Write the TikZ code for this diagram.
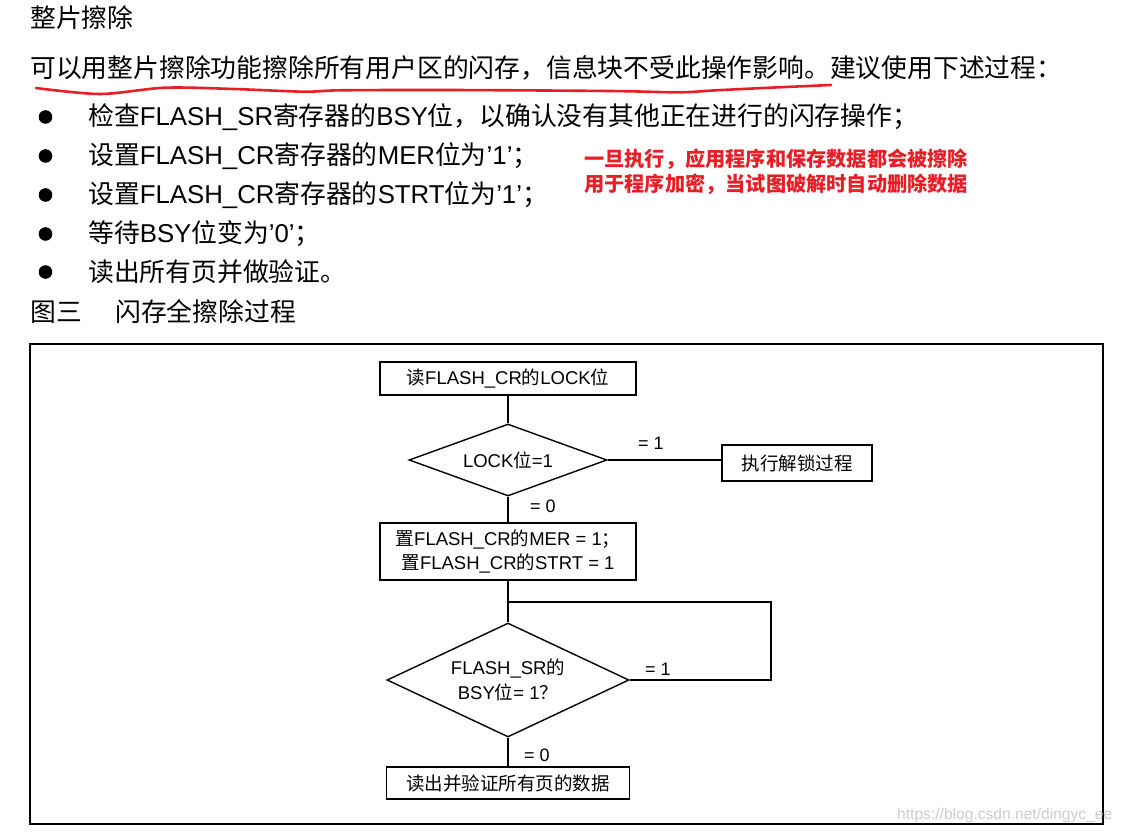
\documentclass[tikz,border=0pt]{standalone}
\usepackage{fontspec}
\setmainfont{Noto Sans CJK SC}
\newfontfamily\lat{Liberation Sans}
\usetikzlibrary{shapes.geometric}
\newcommand\en[1]{{\lat #1}}
\definecolor{warnred}{RGB}{232,30,38}
\definecolor{markgray}{RGB}{205,205,205}

\begin{document}
\begin{tikzpicture}[x=1pt,y=1pt,node distance=80pt,
  text line/.style={anchor=west,inner sep=0pt,font=\fontsize{25.8}{30}\selectfont},
  box/.style={rectangle,draw,line width=1.4pt,inner sep=2pt,align=center,font=\fontsize{18.5}{24}\selectfont},
  decision/.style={diamond,draw,line width=1.4pt,inner sep=0pt,align=center,font=\fontsize{18.5}{25}\selectfont},
  line/.style={draw,line width=1.4pt},
  cond/.style={font=\lat\fontsize{18}{20}\selectfont}]
  \useasboundingbox (0,0) rectangle (1126,-834);

  % text above the chart
  \node[text line] (title) at (30,-18) {整片擦除};
  \node[text line] (intro) at (30,-68) {可以用整片擦除功能擦除所有用户区的闪存，信息块不受此操作影响。建议使用下述过程：};
  \draw[warnred,line width=2.6pt,line cap=round] plot[smooth] coordinates {(36,-88) (100,-94) (165,-87.7) (234,-89) (304,-91.7) (341,-90.3) (448,-90) (609,-91) (679,-92.3) (716,-90.3) (770,-87.7) (831,-85)};

  \foreach \y in {117,156,195,234,272}
    \fill (45.5,-\y) circle (6.8pt);
  \node[text line] (step1) at (88,-117) {检查\en{FLASH\_SR}寄存器的\en{BSY}位，以确认没有其他正在进行的闪存操作；};
  \node[text line] (step2) at (88,-156) {设置\en{FLASH\_CR}寄存器的\en{MER}位为\en{’1’}；};
  \node[text line] (step3) at (88,-195) {设置\en{FLASH\_CR}寄存器的\en{STRT}位为\en{’1’}；};
  \node[text line] (step4) at (88,-234) {等待\en{BSY}位变为\en{’0’}；};
  \node[text line] (step5) at (88,-272) {读出所有页并做验证。};
  \node[text line] (fig) at (30,-312) {图三};
  \node[text line] (figname) at (115,-312) {闪存全擦除过程};

  \node[anchor=west,inner sep=0pt,warnred,font=\bfseries\fontsize{20.2}{24}\selectfont] (note1) at (584,-159) {一旦执行，应用程序和保存数据都会被擦除};
  \node[anchor=west,inner sep=0pt,warnred,font=\bfseries\fontsize{20.2}{24}\selectfont] (note2) at (584,-184) {用于程序加密，当试图破解时自动删除数据};

  % frame
  \draw[line width=2pt] (30,-344) rectangle (1103,-824);

  % chart
  \node[box,minimum width=256pt,minimum height=33pt] (read) at (508,-378.5) {读\en{FLASH\_CR}的\en{LOCK}位};
  \node[decision,aspect=2.75,minimum width=198pt,minimum height=72pt] (lock) [below of=read,node distance=81.5pt] {\en{LOCK}位\en{=1}};
  \node[box,minimum width=150pt,minimum height=36pt] (unlock) [right of=lock,node distance=289pt,yshift=-3pt] {执行解锁过程};
  \node[box,minimum width=256pt,minimum height=57pt] (start) [below of=lock,node distance=91.5pt] {置\en{FLASH\_CR}的\en{MER = 1}；\\ 置\en{FLASH\_CR}的\en{STRT = 1}};
  \node[decision,aspect=2.12,minimum width=242pt,minimum height=114pt] (busy) [below of=start,node distance=128.5pt] {\en{FLASH\_SR}的\\ \en{BSY}位\en{= 1}？};
  \node[box,minimum width=243pt,minimum height=32pt] (verify) [below of=busy,node distance=103pt] {读出并验证所有页的数据};
  \coordinate (back) at (771,-602);

  \path[line]
     (read) edge (lock)
     (lock) edge node[cond,above=6pt,pos=.38] {= 1} (lock.east -| unlock.west)
            edge node[cond,right=18pt,pos=.37] {= 0} (start)
     (start) edge (busy)
     (busy) edge node[cond,right=12pt,pos=.6] {= 0} (verify);
  \draw[line] (busy.east) -| node[cond,above,pos=.1] {= 1} (back) -- (back -| start.south);

  \node[anchor=west,inner sep=0pt,markgray,font=\lat\fontsize{15.6}{18}\selectfont] (mark) at (897,-815) {https://blog.csdn.net/dingyc\_ee};
\end{tikzpicture}
\end{document}
